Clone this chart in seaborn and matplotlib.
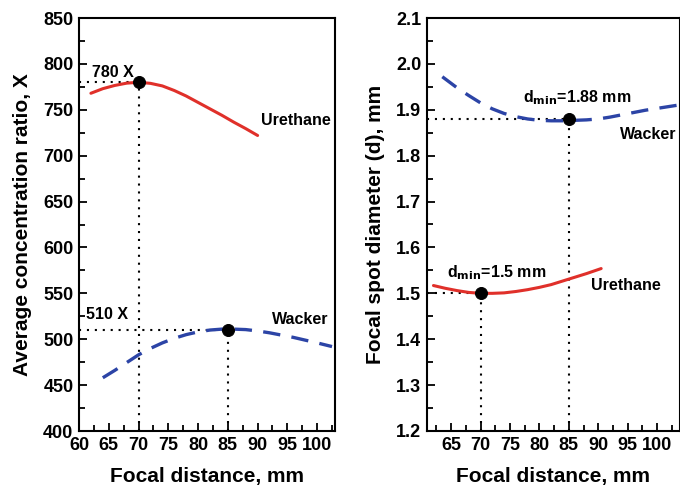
import matplotlib
matplotlib.use("Agg")
import matplotlib.pyplot as plt
from matplotlib.ticker import MultipleLocator, FormatStrFormatter
import seaborn as sns

sns.set_theme(style="white")
plt.rcParams["font.family"] = ["Liberation Sans", "DejaVu Sans"]
plt.rcParams["font.weight"] = "bold"
plt.rcParams["mathtext.default"] = "bf"
for key in ("text.color", "axes.labelcolor", "xtick.color", "ytick.color"):
    plt.rcParams[key] = "black"

RED = "#e0302a"
BLUE = "#2c44a6"

# Average concentration ratio vs focal distance
conc_urethane_x = [62, 64, 66, 68, 70, 72, 74, 76, 78, 80, 82, 84, 86, 88, 90]
conc_urethane_y = [768, 773, 776.5, 779, 780, 778.8, 776, 771, 765, 758, 751, 744, 736.5, 729.5, 722]
conc_wacker_x = [64, 66, 68, 70, 72, 74, 76, 78, 80, 82, 84, 86, 88, 90, 92, 94, 96, 98, 100, 102.5]
conc_wacker_y = [458, 466, 474.5, 483, 490, 496, 501, 505, 508, 510, 511, 511, 510.5, 509, 507, 504.5, 502, 499, 496, 492]
conc_opt_x = [70, 85]
conc_opt_y = [780, 510]
conc_opt_labels = ["780 X", "510 X"]

# Focal spot diameter vs focal distance
spot_urethane_x = [62, 64, 66, 68, 70, 72, 74, 76, 78, 80, 82, 84, 86, 88, 90.5]
spot_urethane_y = [1.517, 1.511, 1.506, 1.502, 1.500, 1.500, 1.501, 1.504, 1.508, 1.513, 1.519, 1.527, 1.535, 1.543, 1.554]
spot_wacker_x = [63.5, 66, 68, 70, 72, 74, 76, 78, 80, 82, 84, 86, 88, 90, 92, 94, 96, 98, 100, 103.5]
spot_wacker_y = [1.972, 1.948, 1.931, 1.915, 1.902, 1.892, 1.885, 1.880, 1.877, 1.876, 1.876, 1.877, 1.878, 1.880, 1.884, 1.889, 1.894, 1.899, 1.903, 1.910]
spot_opt_x = [70, 85]
spot_opt_y = [1.5, 1.88]

fig = plt.figure(figsize=(6.8, 4.94), dpi=100)
ax1 = fig.add_axes([79 / 680, 1 - 431 / 494, 256 / 680, 413 / 494])
ax2 = fig.add_axes([427 / 680, 1 - 431 / 494, 253 / 680, 413 / 494])

dash = (0, (5.2, 3.4))
dot = (0, (1, 2.8))
ANN = dict(fontsize=11.5, fontweight="bold", ha="center", va="center", color="black")


def style_axes(ax):
    for s in ax.spines.values():
        s.set_linewidth(1.5)
        s.set_color("black")
    ax.tick_params(which="both", direction="in", width=1.3, labelsize=13,
                   colors="black", top=False, right=False, bottom=True, left=True, pad=4)
    ax.tick_params(which="major", length=6)
    ax.tick_params(which="minor", length=4)
    ax.grid(False)


# ---- left panel ----
sns.lineplot(x=conc_urethane_x, y=conc_urethane_y, ax=ax1, color=RED, lw=2.2, sort=False)
sns.lineplot(x=conc_wacker_x, y=conc_wacker_y, ax=ax1, color=BLUE, lw=2.4,
             linestyle=dash, sort=False)
ax1.set_xlim(60, 103)
ax1.set_ylim(400, 850)
for x, y in zip(conc_opt_x, conc_opt_y):
    ax1.plot([60, x], [y, y], color="black", lw=1.5, linestyle=dot, zorder=1)
    ax1.plot([x, x], [400, y], color="black", lw=1.5, linestyle=dot, zorder=1)
sns.scatterplot(x=conc_opt_x, y=conc_opt_y, ax=ax1, color="black", s=75,
                edgecolor="black", zorder=5)
ax1.text(65.7, 791, conc_opt_labels[0], **ANN)
ax1.text(64.7, 527, conc_opt_labels[1], **ANN)
ax1.text(96.5, 738, "Urethane", **ANN)
ax1.text(97.1, 522, "Wacker", **ANN)
ax1.xaxis.set_major_locator(MultipleLocator(5))
ax1.xaxis.set_minor_locator(MultipleLocator(2.5))
ax1.yaxis.set_major_locator(MultipleLocator(50))
ax1.yaxis.set_minor_locator(MultipleLocator(25))
ax1.set_xlabel("Focal distance, mm", fontsize=15, fontweight="bold", labelpad=10)
ax1.set_ylabel("Average concentration ratio, X", fontsize=15, fontweight="bold", labelpad=8)
style_axes(ax1)

# ---- right panel ----
sns.lineplot(x=spot_urethane_x, y=spot_urethane_y, ax=ax2, color=RED, lw=2.2, sort=False)
sns.lineplot(x=spot_wacker_x, y=spot_wacker_y, ax=ax2, color=BLUE, lw=2.4,
             linestyle=dash, sort=False)
ax2.set_xlim(60.9, 103.9)
ax2.set_ylim(1.2, 2.1)
for x, y in zip(spot_opt_x, spot_opt_y):
    ax2.plot([60.9, x], [y, y], color="black", lw=1.5, linestyle=dot, zorder=1)
    ax2.plot([x, x], [1.2, y], color="black", lw=1.5, linestyle=dot, zorder=1)
sns.scatterplot(x=spot_opt_x, y=spot_opt_y, ax=ax2, color="black", s=75,
                edgecolor="black", zorder=5)
ax2.text(86.4, 1.927, r"d$_{\mathbf{min}}$=1.88 mm", **ANN)
ax2.text(98.5, 1.847, "Wacker", **ANN)
ax2.text(72.8, 1.545, r"d$_{\mathbf{min}}$=1.5 mm", **ANN)
ax2.text(94.7, 1.517, "Urethane", **ANN)
ax2.xaxis.set_major_locator(MultipleLocator(5))
ax2.xaxis.set_minor_locator(MultipleLocator(2.5))
ax2.yaxis.set_major_locator(MultipleLocator(0.1))
ax2.yaxis.set_minor_locator(MultipleLocator(0.05))
ax2.yaxis.set_major_formatter(FormatStrFormatter("%.1f"))
ax2.set_xlabel("Focal distance, mm", fontsize=15, fontweight="bold", labelpad=10)
ax2.set_ylabel("Focal spot diameter (d), mm", fontsize=15, fontweight="bold", labelpad=8)
style_axes(ax2)

fig.canvas.draw()
for ax in (ax1, ax2):
    for lab in ax.get_xticklabels() + ax.get_yticklabels():
        lab.set_fontweight("bold")

fig.savefig("out.png", dpi=100)
